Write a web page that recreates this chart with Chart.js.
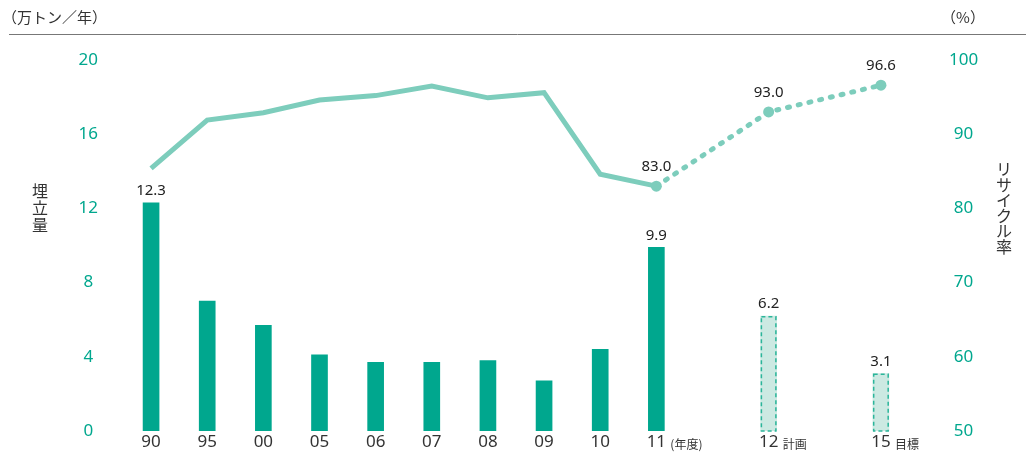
<!DOCTYPE html>
<html lang="ja">
<head>
<meta charset="utf-8">
<title>埋立量とリサイクル率</title>
<script src="https://cdn.jsdelivr.net/npm/chart.js@4/dist/chart.umd.min.js"></script>
<style>
  html, body { margin: 0; padding: 0; background: #fff; }
  #wrap { width: 1026px; height: 464px; position: relative; }
</style>
</head>
<body>
<div id="wrap"><canvas id="recycleChart" width="1026" height="464"></canvas></div>
<script>
// categories (blank slots keep the gap before 12 and 15)
const years = ['90', '95', '00', '05', '06', '07', '08', '09', '10', '11', '', '12', '', '15'];
const yearSuffix = { 9: '(年度)', 11: '計画', 13: '目標' };

// landfill volume (万トン/年)
const landfill = [12.3, 7.0, 5.7, 4.1, 3.7, 3.7, 3.8, 2.7, 4.4, 9.9, null, null, null, null];
const landfillPlan = [null, null, null, null, null, null, null, null, null, null, null, 6.2, null, 3.1];
const landfillLabelIdx = [0, 9];

// recycle rate (%)
const recycleRate = [85.4, 91.9, 92.9, 94.6, 95.2, 96.5, 94.9, 95.6, 84.6, 83.0, null, null, null, null];
const recycleTarget = [null, null, null, null, null, null, null, null, null, 83.0, null, 93.0, null, 96.6];

// axis ticks
const leftTicks = [0, 4, 8, 12, 16, 20];
const rightTicks = [50, 60, 70, 80, 90, 100];

const BAR = '#00a78e';
const LINE = '#7dcdbc';
const TEAL_TEXT = '#00a78e';
const NUM_FONT = "'Noto Sans', 'Open Sans', 'Noto Sans CJK JP', sans-serif";
const JP_FONT = "'Noto Sans CJK JP', 'Noto Sans', sans-serif";

// header texts, vertical axis titles, suffixes, value labels, dashed plan bars
const decorPlugin = {
    id: 'decor',
    afterDatasetsDraw(chart) {
        const ctx = chart.ctx;
        const x = chart.scales.x;
        const bottom = chart.chartArea.bottom;
        ctx.save();

        // top header line + units
        ctx.strokeStyle = '#777';
        ctx.lineWidth = 1;
        ctx.beginPath();
        ctx.moveTo(9, 34.5);
        ctx.lineTo(1026, 34.5);
        ctx.stroke();

        ctx.fillStyle = '#333';
        ctx.font = '15px ' + JP_FONT;
        ctx.textBaseline = 'middle';
        ctx.textAlign = 'left';
        ctx.fillText('（万トン／年）', 2, 17);
        ctx.textAlign = 'center';
        ctx.fillText('（%）', 963, 17);

        // vertical axis titles, one char per row
        ctx.font = '16px ' + JP_FONT;
        ctx.textAlign = 'center';
        '埋立量'.split('').forEach((c, i) => ctx.fillText(c, 40, 191 + i * 17));
        'リサイクル率'.split('').forEach((c, i) => ctx.fillText(c, 1004, 169 + i * 15.5));

        // small suffixes next to year labels
        ctx.font = '12px ' + JP_FONT;
        ctx.textAlign = 'left';
        Object.keys(yearSuffix).forEach(k => {
            const px = x.getPixelForValue(Number(k));
            ctx.fillText(yearSuffix[k], px + 14, bottom + 13);
        });

        // dashed outline for plan bars
        const planMeta = chart.getDatasetMeta(1);
        ctx.strokeStyle = '#2bb59a';
        ctx.lineWidth = 1.5;
        ctx.setLineDash([4, 3]);
        planMeta.data.forEach((bar, i) => {
            if (landfillPlan[i] == null) return;
            const p = bar.getProps(['x', 'y', 'base', 'width'], true);
            ctx.strokeRect(p.x - p.width / 2 + 0.75, p.y + 0.75, p.width - 1.5, p.base - p.y - 0.75);
        });
        ctx.setLineDash([]);

        // value labels
        ctx.fillStyle = '#222';
        ctx.font = '15px ' + NUM_FONT;
        ctx.textAlign = 'center';
        ctx.textBaseline = 'middle';
        const barMeta = chart.getDatasetMeta(0);
        landfillLabelIdx.forEach(i => {
            const el = barMeta.data[i];
            ctx.fillText(landfill[i].toFixed(1), el.x, el.y - 12);
        });
        planMeta.data.forEach((el, i) => {
            if (landfillPlan[i] == null) return;
            ctx.fillText(landfillPlan[i].toFixed(1), el.x, el.y - 12);
        });
        const dotMeta = chart.getDatasetMeta(3);
        dotMeta.data.forEach((el, i) => {
            if (recycleTarget[i] == null) return;
            ctx.fillText(recycleTarget[i].toFixed(1), el.x, el.y - 19);
        });

        ctx.restore();
    }
};

// fixed axis sizes; drop the tick-padding that chart.js adds above/below y axes
function fixY(width) {
    return s => {
        s.width = width;
        s.paddingTop = 0;
        s.paddingBottom = 0;
    };
}

const ctx = document.getElementById('recycleChart').getContext('2d');
const chartInstance = new Chart(ctx, {
    type: 'bar',
    data: {
        labels: years,
        datasets: [
            {
                label: '埋立量',
                data: landfill,
                backgroundColor: BAR,
                barThickness: 16,
                grouped: false,
                yAxisID: 'y',
                order: 2
            },
            {
                label: '埋立量（計画・目標）',
                data: landfillPlan,
                backgroundColor: '#cce9e2',
                barThickness: 16,
                grouped: false,
                yAxisID: 'y',
                order: 2
            },
            {
                type: 'line',
                label: 'リサイクル率',
                data: recycleRate,
                borderColor: LINE,
                borderWidth: 5,
                pointRadius: 0,
                tension: 0,
                spanGaps: false,
                yAxisID: 'y1',
                order: 0
            },
            {
                type: 'line',
                label: 'リサイクル率（計画・目標）',
                data: recycleTarget,
                borderColor: LINE,
                borderWidth: 5,
                borderDash: [2, 9],
                borderCapStyle: 'round',
                pointRadius: 5.5,
                pointBackgroundColor: LINE,
                pointBorderWidth: 0,
                tension: 0,
                spanGaps: true,
                yAxisID: 'y1',
                order: 0
            }
        ]
    },
    options: {
        responsive: false,
        animation: false,
        layout: { padding: { top: 60, bottom: 0, left: 0, right: 0 } },
        plugins: {
            legend: { display: false },
            tooltip: { enabled: false }
        },
        scales: {
            x: {
                grid: { display: false, drawTicks: false },
                border: { display: false },
                ticks: {
                    autoSkip: false,
                    maxRotation: 0,
                    padding: 1,
                    color: '#333',
                    font: { family: NUM_FONT, size: 17 }
                },
                afterFit: s => { s.height = 33; }
            },
            y: {
                position: 'left',
                min: 0,
                max: 20,
                afterBuildTicks: s => { s.ticks = leftTicks.map(v => ({ value: v })); },
                grid: { display: false, drawTicks: false },
                border: { display: false },
                ticks: {
                    crossAlign: 'center',
                    padding: 25,
                    color: TEAL_TEXT,
                    font: { family: NUM_FONT, size: 17 }
                },
                afterFit: fixY(123)
            },
            y1: {
                position: 'right',
                min: 50,
                max: 100,
                afterBuildTicks: s => { s.ticks = rightTicks.map(v => ({ value: v })); },
                grid: { display: false, drawTicks: false },
                border: { display: false },
                ticks: {
                    crossAlign: 'center',
                    padding: 40,
                    color: TEAL_TEXT,
                    font: { family: NUM_FONT, size: 17 }
                },
                afterFit: fixY(117)
            }
        }
    },
    plugins: [decorPlugin]
});
</script>
</body>
</html>
